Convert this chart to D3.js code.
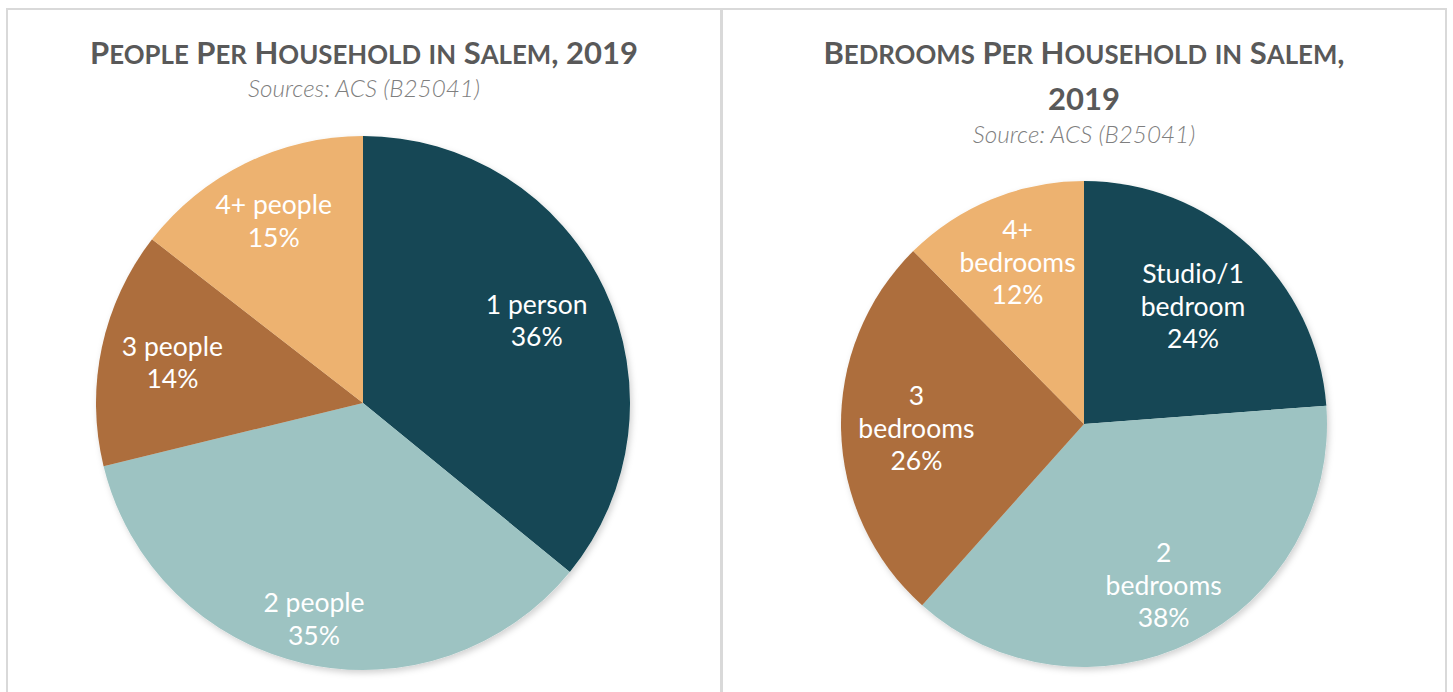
<!DOCTYPE html>
<html>
<head>
<meta charset="utf-8">
<script src="https://cdn.jsdelivr.net/npm/d3@7"></script>
<style>
  body { margin: 0; background: #fff; }
  svg { display: block; }
  .title { font-family: Lato, "Open Sans", sans-serif; font-weight: 700; fill: #595959; }
  .sub { font-family: Lato, sans-serif; font-weight: 300; font-style: italic; fill: #7f7f7f; }
  .lbl { font-family: Lato, sans-serif; fill: #fff; }
</style>
</head>
<body>
<script>
// data
const peopleCats = ["1 person", "2 people", "3 people", "4+ people"];
const peopleVals = [35.9, 35.3, 14.3, 14.5];
const bedroomCats = ["Studio/1 bedroom", "2 bedrooms", "3 bedrooms", "4+ bedrooms"];
const bedroomVals = [23.8, 37.8, 26.0, 12.4];
// how each label is broken into lines
const peopleLines = [["1 person"], ["2 people"], ["3 people"], ["4+ people"]];
const bedroomLines = [["Studio/1", "bedroom"], ["2", "bedrooms"], ["3", "bedrooms"], ["4+", "bedrooms"]];

const W = 1453, H = 692;
const colors = ["#124754", "#9dc3c2", "#ad6e3c", "#edb26f"];

const svg = d3.select("body").append("svg").attr("width", W).attr("height", H);

const defs = svg.append("defs");
const f = defs.append("filter").attr("id", "shadow")
  .attr("x", "-10%").attr("y", "-10%").attr("width", "120%").attr("height", "120%");
f.append("feDropShadow").attr("dx", 2).attr("dy", 3).attr("stdDeviation", 3)
  .attr("flood-color", "#000").attr("flood-opacity", 0.18);

// panel frames
svg.append("rect").attr("x", 7).attr("y", 9).attr("width", 714).attr("height", H)
  .attr("fill", "none").attr("stroke", "#d9d9d9").attr("stroke-width", 2);
svg.append("rect").attr("x", 722).attr("y", 9).attr("width", 724).attr("height", H)
  .attr("fill", "none").attr("stroke", "#d9d9d9").attr("stroke-width", 2);

// title with hand-made small caps: capitals big, lower case as smaller capitals
function smallCapsTitle(x, y, str) {
  const t = svg.append("text").attr("class", "title").attr("x", x).attr("y", y)
    .attr("text-anchor", "middle");
  let run = "", big = null;
  const flush = () => {
    if (run) t.append("tspan").style("font-size", big ? "31px" : "25.8px").text(big ? run : run.toUpperCase());
    run = "";
  };
  for (const ch of str) {
    const isBig = !(ch >= "a" && ch <= "z");
    if (big !== null && isBig !== big) flush();
    big = isBig;
    run += ch;
  }
  flush();
}

function drawPie(opts) {
  const g = svg.append("g").attr("transform", `translate(${opts.cx},${opts.cy})`);
  const data = opts.cats.map((c, i) => ({ cat: c, value: opts.vals[i], lines: opts.lines[i], i: i }));
  const pie = d3.pie().value(d => d.value).sort(null);
  const arcs = pie(data);
  const arc = d3.arc().innerRadius(0).outerRadius(opts.r);

  g.append("g").attr("filter", "url(#shadow)")
    .selectAll("path").data(arcs).enter().append("path")
    .attr("d", arc)
    .attr("fill", d => colors[d.data.i]);

  const lineH = 32.5;
  const lab = g.selectAll("text.lbl").data(arcs).enter().append("text")
    .attr("class", "lbl")
    .attr("text-anchor", "middle")
    .style("font-size", "26.5px")
    .attr("transform", d => {
      const a = (d.startAngle + d.endAngle) / 2;
      const rr = opts.r * opts.labelR[d.data.i];
      return `translate(${rr * Math.sin(a)},${-rr * Math.cos(a)})`;
    });
  lab.each(function (d) {
    const lines = d.data.lines.concat([Math.round(d.data.value) + "%"]);
    const n = lines.length;
    const t = d3.select(this);
    lines.forEach((s, k) => {
      t.append("tspan").attr("x", 0)
        .attr("y", (k - (n - 1) / 2) * lineH)
        .attr("dy", "0.36em")
        .text(s);
    });
  });
}

// left chart
smallCapsTitle(364, 64, "People Per Household in Salem, 2019");
svg.append("text").attr("class", "sub").attr("x", 364).attr("y", 97)
  .attr("text-anchor", "middle").style("font-size", "24.3px")
  .text("Sources: ACS (B25041)");

drawPie({ cx: 363, cy: 403, r: 267, cats: peopleCats, vals: peopleVals,
  lines: peopleLines, labelR: [0.72, 0.83, 0.73, 0.76] });

// right chart
smallCapsTitle(1084, 64, "Bedrooms Per Household in Salem,");
smallCapsTitle(1084, 110, "2019");
svg.append("text").attr("class", "sub").attr("x", 1084).attr("y", 143)
  .attr("text-anchor", "middle").style("font-size", "24.3px")
  .text("Source: ACS (B25041)");

drawPie({ cx: 1084, cy: 424, r: 243, cats: bedroomCats, vals: bedroomVals,
  lines: bedroomLines, labelR: [0.66, 0.74, 0.69, 0.72] });
</script>
</body>
</html>
